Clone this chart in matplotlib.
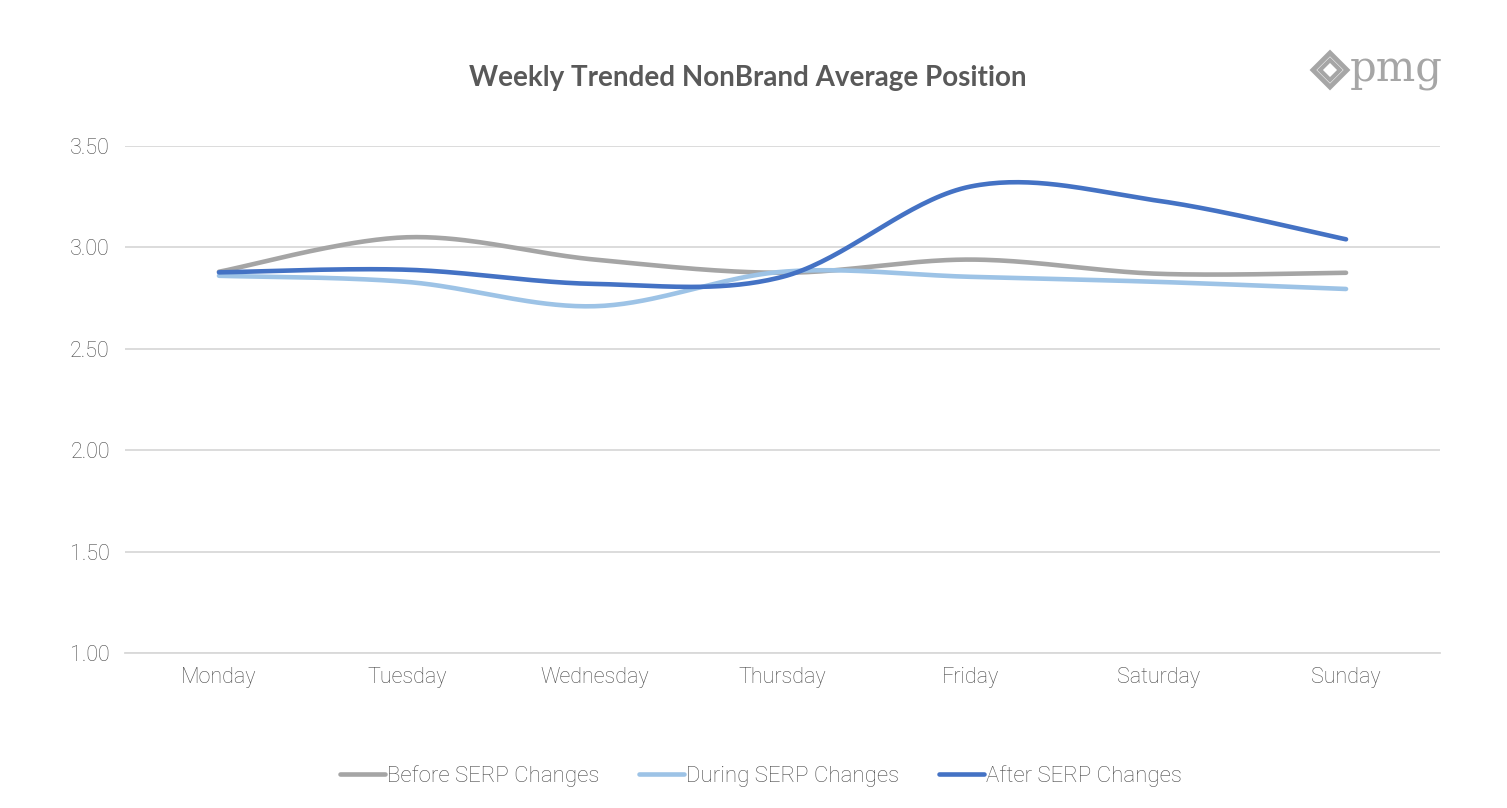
import numpy as np
import matplotlib.pyplot as plt
from matplotlib.patches import Polygon
from matplotlib.lines import Line2D

days = ["Monday", "Tuesday", "Wednesday", "Thursday", "Friday", "Saturday", "Sunday"]
before = [2.88, 3.05, 2.94, 2.875, 2.94, 2.87, 2.875]
during = [2.86, 2.83, 2.71, 2.88, 2.855, 2.83, 2.795]
after = [2.877, 2.89, 2.82, 2.855, 3.30, 3.23, 3.04]

series_names = ["Before SERP Changes", "During SERP Changes", "After SERP Changes"]
series_colors = ["#a5a5a5", "#9dc3e6", "#4472c4"]
y_ticks = [1.00, 1.50, 2.00, 2.50, 3.00, 3.50]


def smooth(xs, ys, n=40):
    # Excel-like smoothing: cubic Bezier with Catmull-Rom control points
    p = np.column_stack([xs, ys]).astype(float)
    ext = np.vstack([p[0], p, p[-1]])
    out = []
    t = np.linspace(0, 1, n)[:, None]
    for i in range(len(p) - 1):
        p0, p1, p2, p3 = ext[i], ext[i + 1], ext[i + 2], ext[i + 3]
        c1 = p1 + (p2 - p0) / 6
        c2 = p2 - (p3 - p1) / 6
        seg = ((1 - t) ** 3) * p1 + 3 * ((1 - t) ** 2) * t * c1 + 3 * (1 - t) * t ** 2 * c2 + t ** 3 * p2
        out.append(seg if i == 0 else seg[1:])
    out = np.vstack(out)
    return out[:, 0], out[:, 1]


fig = plt.figure(figsize=(15.07, 8.08), dpi=100)
ax = fig.add_axes([0.083, 0.1918, 0.8725, 0.6275])

x = np.arange(len(days))
for vals, name, col in zip([before, during, after], series_names, series_colors):
    sx, sy = smooth(x, vals)
    ax.plot(sx, sy, color=col, lw=3.3, solid_capstyle="round", label=name, zorder=3)

ax.set_xlim(-0.5, 6.5)
ax.set_ylim(1.0, 3.5)
ax.set_yticks(y_ticks)
ax.set_yticklabels([f"{v:.2f}" for v in y_ticks])
ax.set_xticks(x)
ax.set_xticklabels(days)
ax.grid(axis="y", color="#d9d9d9", lw=1.3, zorder=0)
for s in ["top", "right", "left"]:
    ax.spines[s].set_visible(False)
ax.spines["bottom"].set_color("#d9d9d9")
ax.spines["bottom"].set_linewidth(1.3)
ax.tick_params(axis="both", length=0, labelsize=15.5, labelcolor="#4a4a4a")
ax.tick_params(axis="x", pad=10)
ax.tick_params(axis="y", pad=11)
for lab in ax.get_xticklabels() + ax.get_yticklabels():
    lab.set_family("Roboto")
    lab.set_fontweight("light")

fig.text(0.496, 0.903, "Weekly Trended NonBrand Average Position", ha="center", va="center",
         fontsize=20, fontweight="bold", family="Lato", color="#595959")

# logo
fig.text(0.9575, 0.913, "pmg", ha="right", va="center", fontsize=30,
         family="DejaVu Serif", color="#a6a6a6")
lx, ly = 1330, 70
for d, w in [(17, 3.5), (10, 3.0)]:
    pts = [(lx - d, ly), (lx, ly - d), (lx + d, ly), (lx, ly + d)]
    pts = [(px / 1507, 1 - py / 808) for px, py in pts]
    fig.patches.append(Polygon(pts, closed=True, fill=False, edgecolor="#a6a6a6", lw=w,
                               transform=fig.transFigure, figure=fig))

handles = [Line2D([], [], color=c, lw=3.3, solid_capstyle="round") for c in series_colors]
leg = fig.legend(handles, series_names, loc="center", bbox_to_anchor=(0.505, 0.04), ncol=3,
                 frameon=False, handlelength=2.0, handletextpad=0.1, columnspacing=1.8,
                 prop={"family": "Roboto", "weight": "light", "size": 16})
for t in leg.get_texts():
    t.set_color("#4a4a4a")

fig.savefig("out.png", dpi=100)
